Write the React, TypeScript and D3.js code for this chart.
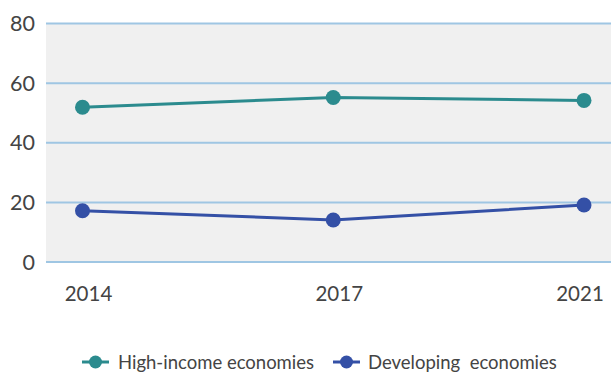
import React from "react";
import * as d3 from "d3";

const years = ["2014", "2017", "2021"];
const highIncome = [51.9, 55.2, 54.2];
const developing = [17.2, 14.1, 19.1];
const yTicks = [0, 20, 40, 60, 80];
const seriesNames = ["High-income economies", "Developing\u00a0 economies"];
const seriesColors = ["#2b8b8e", "#3450a6"];

const W = 611;
const H = 372;

export default function App() {
  const plotLeft = 46;
  const plotRight = 611;
  const y = d3.scaleLinear().domain([0, 80]).range([262, 23.5]);
  const x = d3.scalePoint<string>().domain(years).range([82.5, 584]);
  const line = d3
    .line<number>()
    .x((_, i) => x(years[i]) as number)
    .y((d) => y(d));
  const series = [highIncome, developing];
  const font = "Lato, 'Open Sans', sans-serif";

  const legendItems = [
    { x0: 82, tx: 118 },
    { x0: 333, tx: 368 },
  ];

  return (
    <svg
      width={W}
      height={H}
      style={{ position: "absolute", left: 0, top: 0, background: "#fff" }}
      fontFamily={font}
    >
      <rect
        x={plotLeft}
        y={y(80)}
        width={plotRight - plotLeft}
        height={y(0) - y(80)}
        fill="#f0f0f0"
      />
      {yTicks.map((t) => (
        <g key={t}>
          <line
            x1={plotLeft}
            x2={plotRight}
            y1={y(t)}
            y2={y(t)}
            stroke="#9fc6e3"
            strokeWidth={2}
          />
          <text
            x={35}
            y={y(t) + 7.5}
            textAnchor="end"
            fontSize={21.5}
            fill="#444"
          >
            {t}
          </text>
        </g>
      ))}
      {years.map((yr) => {
        const px = x(yr) as number;
        const lx = Math.min(px + 6, 580);
        return (
          <text
            key={yr}
            x={lx}
            y={301}
            textAnchor="middle"
            fontSize={20.5}
            fill="#444"
          >
            {yr}
          </text>
        );
      })}
      {series.map((s, si) => (
        <g key={si}>
          <path
            d={line(s) || ""}
            fill="none"
            stroke={seriesColors[si]}
            strokeWidth={3}
          />
          {s.map((v, i) => (
            <circle
              key={i}
              cx={x(years[i]) as number}
              cy={y(v)}
              r={7.5}
              fill={seriesColors[si]}
            />
          ))}
        </g>
      ))}
      {legendItems.map((li, i) => (
        <g key={i}>
          <line
            x1={li.x0}
            x2={li.x0 + 27}
            y1={362}
            y2={362}
            stroke={seriesColors[i]}
            strokeWidth={3}
          />
          <circle cx={li.x0 + 13.5} cy={362} r={6.5} fill={seriesColors[i]} />
          <text x={li.tx} y={368.5} fontSize={18.5} fill="#444">
            {seriesNames[i]}
          </text>
        </g>
      ))}
    </svg>
  );
}
